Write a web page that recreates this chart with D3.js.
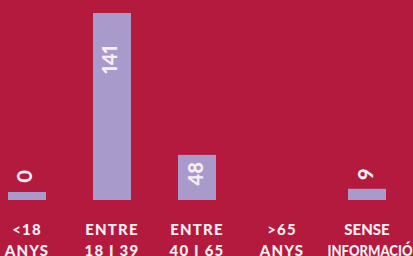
<!DOCTYPE html>
<html>
<head>
<meta charset="utf-8">
<script src="https://cdn.jsdelivr.net/npm/d3@7"></script>
<style>
  html, body { margin: 0; padding: 0; background: #b41a3e; }
  svg { display: block; }
  text { font-family: Lato, "Open Sans", sans-serif; font-weight: 900; fill: #f7eef2; }
</style>
</head>
<body>
<div id="chart"></div>
<script>
// categories (two lines each) and values, >65 has no value in the source
var cats = ["<18", "entre18", "entre40", ">65", "sense"];
var line1 = ["<18", "ENTRE", "ENTRE", ">65", "SENSE"];
var line2 = ["ANYS", "18 I 39", "40 I 65", "ANYS", "INFORMACIÓ"];
var values = [0, 141, 48, null, 9];

var width = 413, height = 256;
var base = 200, minH = 8;

var svg = d3.select("#chart").append("svg")
    .attr("width", width)
    .attr("height", height);

svg.append("rect").attr("width", width).attr("height", height).attr("fill", "#b41a3e");

var x = d3.scaleBand()
    .domain(cats)
    .range([8, 386])
    .paddingInner(0.553)
    .paddingOuter(0);

// the bars in the original are not linear, a pow scale fits them best
var y = d3.scalePow()
    .exponent(1.46)
    .domain([0, d3.max(values)])
    .range([base - minH, 13]);

var rows = cats.map(function(c, i) {
  return {cat: c, v: values[i], l1: line1[i], l2: line2[i]};
});

svg.selectAll(".bar")
  .data(rows.filter(function(d) { return d.v != null; }))
  .enter().append("rect")
    .attr("class", "bar")
    .attr("x", function(d) { return x(d.cat); })
    .attr("y", function(d) { return y(d.v); })
    .attr("width", x.bandwidth())
    .attr("height", function(d) { return base - y(d.v); })
    .attr("fill", "#a89bcb");

// value labels, rotated; inside the bar when it is tall enough
svg.selectAll(".val")
  .data(rows.filter(function(d) { return d.v != null; }))
  .enter().append("text")
    .attr("class", "val")
    .style("font-size", "20px")
    .style("font-variant-numeric", "proportional-nums")
    .attr("text-anchor", function(d) { return base - y(d.v) > 30 ? "end" : "start"; })
    .attr("transform", function(d) {
      var cx = x(d.cat) + x.bandwidth() / 2 + 5.5;
      var top = y(d.v);
      var ty = base - top > 30 ? Math.max(top, 38) + 7 : top - 9;
      return "translate(" + cx + "," + ty + ") rotate(-90)";
    })
    .text(function(d) { return d.v; });

var lab = svg.selectAll(".cat")
  .data(rows)
  .enter().append("text")
    .attr("class", "cat")
    .attr("text-anchor", "middle")
    .style("font-size", "15px")
    .style("letter-spacing", function(d) { return d.l2.length > 8 ? "0px" : "1.2px"; });

lab.append("tspan")
    .attr("x", function(d) { return x(d.cat) + x.bandwidth() / 2; })
    .attr("y", 235)
    .text(function(d) { return d.l1; });
lab.append("tspan")
    .attr("x", function(d) { return x(d.cat) + x.bandwidth() / 2 + (d.l2.length > 8 ? 3 : 0); })
    .attr("y", 255.5)
    .each(function(d) {
      // the long label is squeezed in the original to fit the edge
      if (d.l2.length > 8) d3.select(this).attr("textLength", 85).attr("lengthAdjust", "spacingAndGlyphs");
    })
    .text(function(d) { return d.l2; });
</script>
</body>
</html>
